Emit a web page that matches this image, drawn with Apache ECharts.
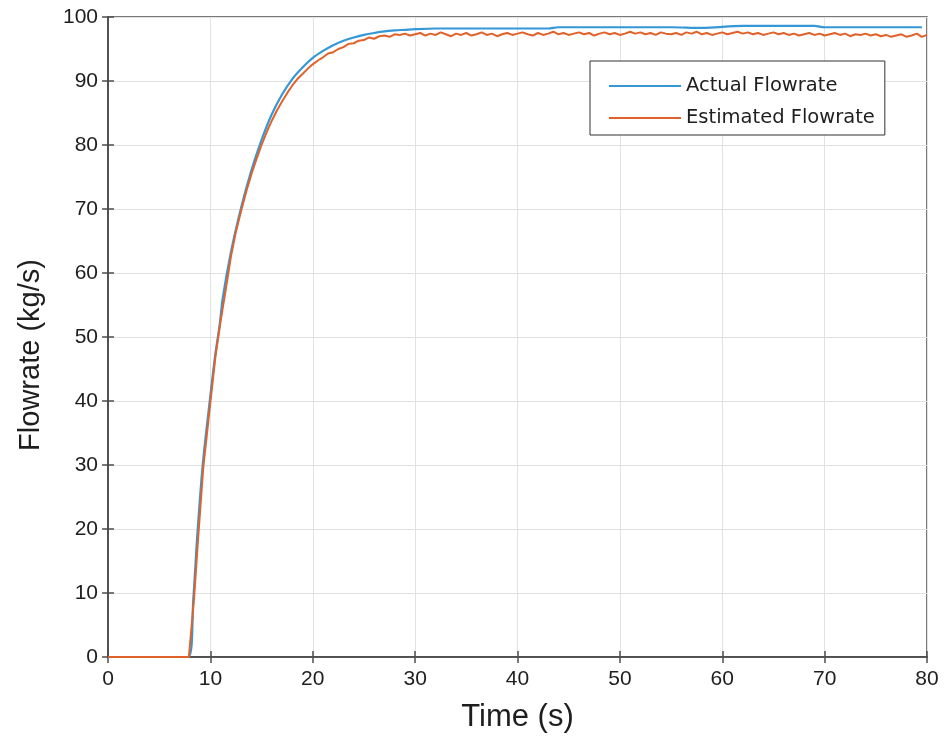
<!DOCTYPE html>
<html>
<head>
<meta charset="utf-8">
<script src="https://cdn.jsdelivr.net/npm/echarts@6/dist/echarts.min.js"></script>
<style>
html,body{margin:0;padding:0;background:#fff;}
#chart{width:945px;height:749px;}
</style>
</head>
<body>
<div id="chart"></div>
<script>
// ---- data ----
const seriesNames = ['Actual Flowrate', 'Estimated Flowrate'];
const xTicks = [0, 10, 20, 30, 40, 50, 60, 70, 80];
const yTicks = [0, 10, 20, 30, 40, 50, 60, 70, 80, 90, 100];

// Actual flowrate: time (s) and value (kg/s)
const actualTime = [0, 7.85, 8.33, 8.72, 9.25, 9.96, 10.5, 10.9, 11.2, 12, 13, 14, 15, 16, 17, 18, 19, 20, 21, 22, 23, 24, 25, 26, 27, 28, 29, 30, 32, 35, 43, 44, 55, 58, 62, 69, 70, 79.5];
const actualFlow = [0, 0, 9, 19, 30, 40.3, 47.5, 51.8, 56, 63.2, 70.2, 76.0, 80.8, 84.8, 87.9, 90.3, 92.1, 93.6, 94.7, 95.6, 96.3, 96.8, 97.2, 97.5, 97.75, 97.9, 98.0, 98.1, 98.2, 98.2, 98.2, 98.4, 98.4, 98.3, 98.6, 98.6, 98.4, 98.4];

// Estimated flowrate: rise part (irregular times)
const estRiseTime = [0, 7.9, 8.4, 8.8, 9.3, 10, 10.5, 11, 11.5, 12, 12.5, 13, 13.5, 14, 14.5, 15, 15.5, 16, 16.5, 17, 17.5, 18, 18.5, 19, 19.5, 20, 20.5, 21, 21.5, 22, 22.5, 23, 23.5, 24, 24.5, 25, 25.5, 26, 26.5, 27, 27.5, 28, 28.5, 29, 29.5, 30];
const estRiseFlow = [0, 0, 9, 18.5, 29.5, 39.8, 47, 52.5, 57.4, 62.5, 66.5, 69.7, 72.7, 75.4, 77.8, 80.0, 82.0, 83.8, 85.4, 86.8, 88.1, 89.3, 90.3, 91.1, 91.9, 92.6, 93.2, 93.7, 94.3, 94.5, 95.0, 95.3, 95.8, 95.9, 96.3, 96.4, 96.8, 96.6, 97.0, 97.1, 96.9, 97.3, 97.2, 97.4, 97.1, 97.3];
// Estimated flowrate: steady part, sampled every 0.5 s from 30.5 s to 80 s
const estSteadyStart = 30.5;
const estSteadyStep = 0.5;
const estSteadyFlow = [
  97.5, 97.1, 97.4, 97.2, 97.6, 97.3, 97.0, 97.4, 97.2, 97.5,
  97.1, 97.3, 97.6, 97.2, 97.4, 97.0, 97.3, 97.5, 97.2, 97.4,
  97.6, 97.3, 97.1, 97.5, 97.2, 97.4, 97.7, 97.3, 97.5, 97.2,
  97.4, 97.6, 97.3, 97.5, 97.1, 97.4, 97.6, 97.3, 97.5, 97.2,
  97.4, 97.7, 97.4, 97.6, 97.3, 97.5, 97.2, 97.6, 97.4, 97.3,
  97.5, 97.2, 97.6, 97.4, 97.7, 97.3, 97.5, 97.2, 97.4, 97.6,
  97.3, 97.5, 97.7, 97.4, 97.6, 97.3, 97.5, 97.2, 97.4, 97.6,
  97.3, 97.5, 97.2, 97.4, 97.1, 97.3, 97.5, 97.2, 97.4, 97.1,
  97.3, 97.5, 97.2, 97.4, 97.0, 97.3, 97.2, 97.4, 97.1, 97.3,
  97.0, 97.2, 96.9, 97.1, 97.3, 96.9, 97.1, 97.4, 96.9, 97.2
];

// ---- build series data ----
const actualData = actualTime.map((t, i) => [t, actualFlow[i]]);
const estData = estRiseTime.map((t, i) => [t, estRiseFlow[i]])
  .concat(estSteadyFlow.map((v, i) => [estSteadyStart + i * estSteadyStep, v]));

const FONT = '"Liberation Sans", Arial, Helvetica, sans-serif';
const LFONT = '"DejaVu Sans", "Liberation Sans", sans-serif';
const axisColor = '#4d4d4d';
const gridColor = '#e2e2e2';
const textColor = '#1e1e1e';

const chart = echarts.init(document.getElementById('chart'), null, {renderer: 'canvas'});
const option = {
  backgroundColor: '#fff',
  animation: false,
  grid: {left: 108, right: 18, top: 17, bottom: 92, show: true, borderColor: axisColor, borderWidth: 1.5, backgroundColor: 'transparent'},
  legend: {
    data: seriesNames,
    orient: 'vertical',
    left: 590,
    top: 61,
    padding: [15, 10, 7, 18],
    itemWidth: 72,
    itemHeight: 14,
    itemGap: 12,
    backgroundColor: '#fff',
    borderColor: '#333',
    borderWidth: 1,
    borderRadius: 0,
    itemStyle: {opacity: 0},
    textStyle: {fontFamily: LFONT, fontSize: 19.5, color: textColor}
  },
  xAxis: [{
    type: 'value', min: xTicks[0], max: xTicks[xTicks.length - 1], interval: 10,
    name: 'Time (s)', nameLocation: 'middle', nameGap: 45,
    nameTextStyle: {fontFamily: FONT, fontSize: 31, color: textColor},
    axisLine: {show: true, lineStyle: {color: axisColor, width: 1.5}},
    axisTick: {show: true, inside: true, length: 6, lineStyle: {color: axisColor, width: 1.5}},
    axisLabel: {fontFamily: FONT, fontSize: 21, color: textColor, margin: 12},
    splitLine: {show: true, lineStyle: {color: gridColor, width: 1}}
  }, {
    type: 'value', position: 'top', min: xTicks[0], max: xTicks[xTicks.length - 1], interval: 10,
    axisLine: {show: true, lineStyle: {color: axisColor, width: 1.5}},
    axisTick: {show: true, inside: true, length: 6, lineStyle: {color: axisColor, width: 1.5}},
    axisLabel: {show: false}, splitLine: {show: false}
  }],
  yAxis: [{
    type: 'value', min: yTicks[0], max: yTicks[yTicks.length - 1], interval: 10,
    name: 'Flowrate (kg/s)', nameLocation: 'middle', nameGap: 63,
    nameTextStyle: {fontFamily: FONT, fontSize: 29, color: textColor, padding: [0, 36, 0, 0]},
    axisLine: {show: true, lineStyle: {color: axisColor, width: 1.5}},
    axisTick: {show: true, inside: true, length: 6, lineStyle: {color: axisColor, width: 1.5}},
    axisLabel: {fontFamily: FONT, fontSize: 21, color: textColor, margin: 10},
    splitLine: {show: true, lineStyle: {color: gridColor, width: 1}}
  }, {
    type: 'value', position: 'right', min: yTicks[0], max: yTicks[yTicks.length - 1], interval: 10,
    axisLine: {show: true, lineStyle: {color: axisColor, width: 1.5}},
    axisTick: {show: true, inside: true, length: 6, lineStyle: {color: axisColor, width: 1.5}},
    axisLabel: {show: false}, splitLine: {show: false}
  }],
  series: [{
    name: seriesNames[0], type: 'line', data: actualData, symbol: 'none', smooth: 0.3,
    lineStyle: {color: '#3597d6', width: 2.2}, itemStyle: {color: '#3597d6'}, z: 2
  }, {
    name: seriesNames[1], type: 'line', data: estData, symbol: 'none',
    lineStyle: {color: '#e0622a', width: 2}, itemStyle: {color: '#e0622a'}, z: 3
  }]
};
chart.setOption(option);
</script>
</body>
</html>
